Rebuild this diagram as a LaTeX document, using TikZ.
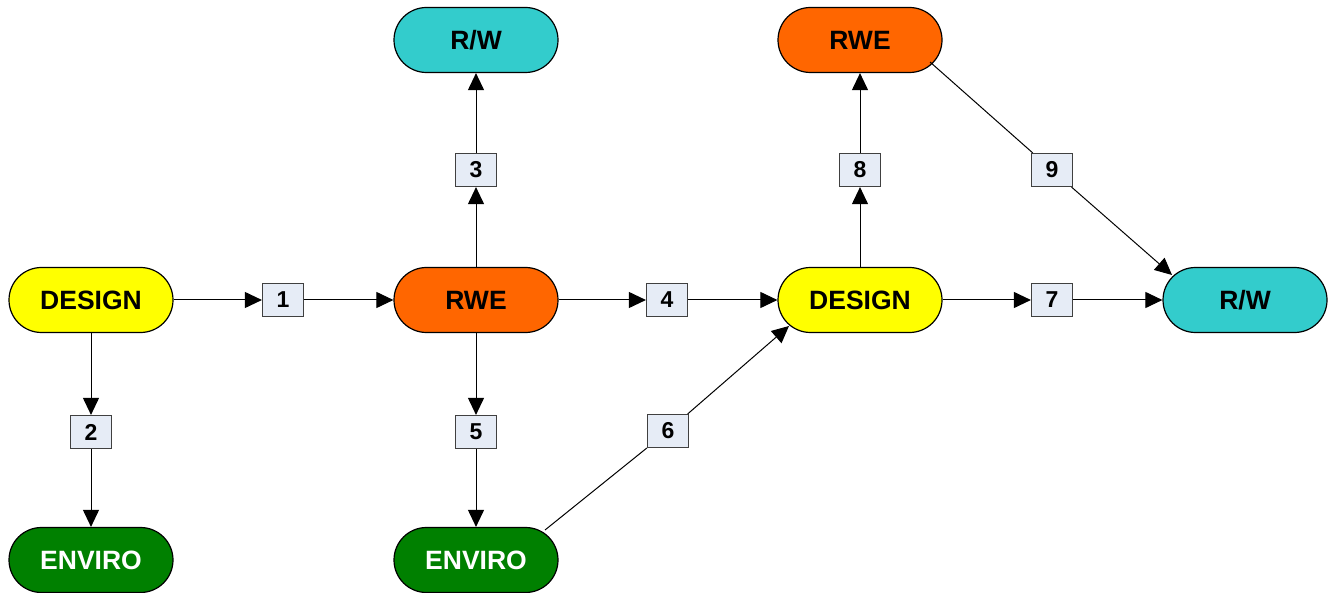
\documentclass[tikz,border=0pt]{standalone}
\usepackage{fontspec}
\setmainfont{Liberation Sans}
\usetikzlibrary{arrows.meta,calc}
\definecolor{cyel}{HTML}{FFFF00}
\definecolor{corg}{HTML}{FF6600}
\definecolor{ccya}{HTML}{33CCCC}
\definecolor{cgrn}{HTML}{008000}
\definecolor{clab}{HTML}{E6ECF6}
\definecolor{cbrd}{HTML}{404040}
\begin{document}
\begin{tikzpicture}[x=1pt,y=-1pt,
  pill/.style={draw=black,line width=1.2pt,rectangle,rounded corners=32.5pt,minimum width=164pt,minimum height=65pt,inner sep=0pt,font=\fontsize{26.5}{30}\selectfont\bfseries},
  yel/.style={pill,fill=cyel,text=black},
  org/.style={pill,fill=corg,text=black},
  cya/.style={pill,fill=ccya,text=black},
  grn/.style={pill,fill=cgrn,text=white},
  lab/.style={draw=cbrd,line width=1.2pt,fill=clab,rectangle,minimum width=41pt,minimum height=33pt,inner sep=0pt,font=\fontsize{23}{26}\selectfont\bfseries},
  con/.style={draw=black,line width=1pt},
  arr/.style={con,-{Triangle[length=17pt,width=16pt]}}]
\useasboundingbox (0,0) rectangle (1332,593);
% main nodes
\node[yel] (d1) at (91,300) {DESIGN};
\node[grn] (e1) at (91,560) {ENVIRO};
\node[org] (r1) at (476,300) {RWE};
\node[cya] (w1) at (476,40) {R/W};
\node[grn] (e2) at (476,560) {ENVIRO};
\node[yel] (d2) at (860,300) {DESIGN};
\node[org] (r2) at (860,40) {RWE};
\node[cya] (w2) at (1245,300) {R/W};
% label boxes
\node[lab] (b1) at (283,300) {1};
\node[lab] (b2) at (91,432) {2};
\node[lab] (b3) at (476,170) {3};
\node[lab] (b4) at (667,300) {4};
\node[lab] (b5) at (476,432) {5};
\node[lab] (b6) at (668,431) {6};
\node[lab] (b7) at (1052,300) {7};
\node[lab] (b8) at (860,170) {8};
\node[lab] (b9) at (1052,170) {9};
% free ends of diagonal connectors
\coordinate (s6) at ($(e2.center)+(69,-30)$);
\coordinate (t6) at ($(d2.center)+(-71,26)$);
\coordinate (s9) at ($(r2.center)+(70,22)$);
\coordinate (t9) at ($(w2.center)+(-73,-25)$);
% connectors
\draw[arr] (d1) -- (b1);
\draw[arr] (b1) -- (r1);
\draw[arr] (d1) -- (b2);
\draw[arr] (b2) -- (e1);
\draw[arr] (r1) -- (b3);
\draw[arr] (b3) -- (w1);
\draw[arr] (r1) -- (b4);
\draw[arr] (b4) -- (d2);
\draw[arr] (r1) -- (b5);
\draw[arr] (b5) -- (e2);
\draw[con] (s6) -- (b6);
\draw[arr] (b6) -- (t6);
\draw[arr] (d2) -- (b7);
\draw[arr] (b7) -- (w2);
\draw[arr] (d2) -- (b8);
\draw[arr] (b8) -- (r2);
\draw[con] (s9) -- (b9);
\draw[arr] (b9) -- (t9);
\end{tikzpicture}
\end{document}
